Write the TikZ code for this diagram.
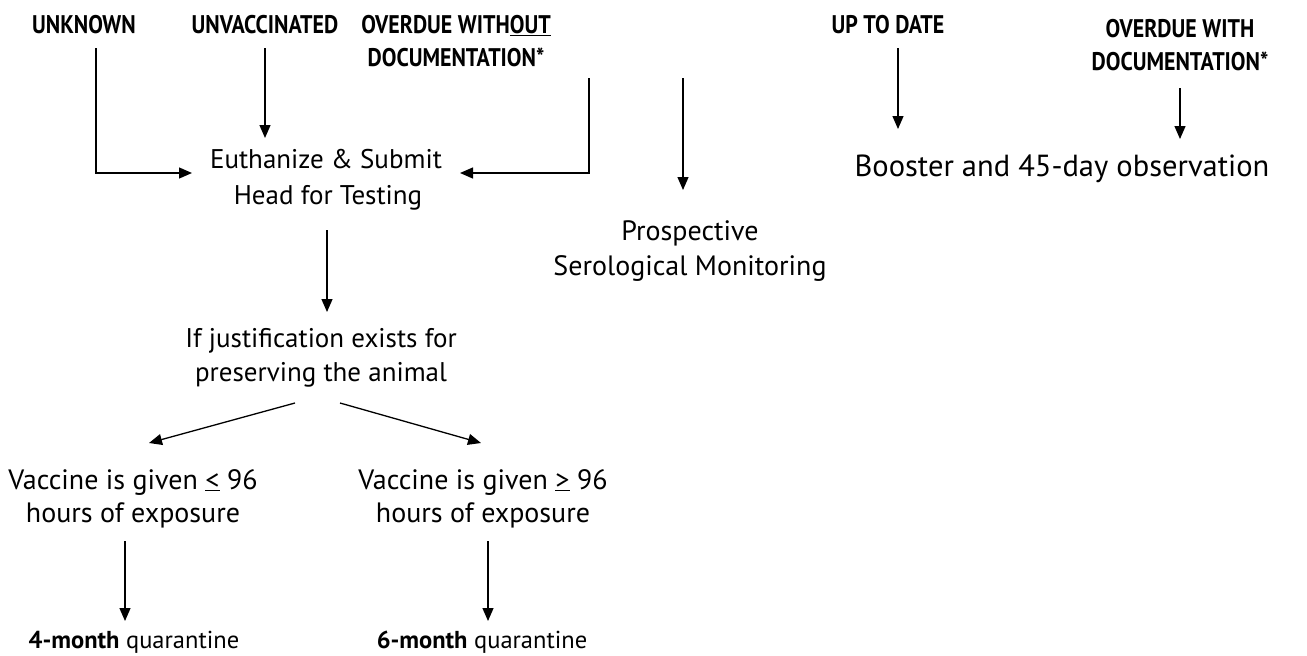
\documentclass[tikz,border=0pt]{standalone}
\usepackage{fontspec}
\setmainfont{PT Sans}
\newfontfamily\hdrfont[FakeStretch=0.86]{PT Sans}
\usetikzlibrary{arrows.meta}
\begin{document}
\begin{tikzpicture}[x=1pt,y=-1pt,
  hdr/.style={font=\hdrfont\fontsize{25.5}{33}\selectfont\bfseries, anchor=base, inner sep=0pt},
  txt/.style={font=\fontsize{27}{33}\selectfont, anchor=base, inner sep=0pt},
  arr/.style={line width=1.3pt, -{Triangle[length=13pt,width=11pt]}}]
\useasboundingbox (0,0) rectangle (1307,656);
% headers
\node[hdr] (unk) at (84,33) {UNKNOWN};
\node[hdr] (unv) at (265,33) {UNVACCINATED};
\node[hdr] (odwoA) at (456,33) {OVERDUE WITH\underline{OUT}};
\node[hdr] (odwoB) at (456,66) {DOCUMENTATION*};
\node[hdr] (utd) at (888,33) {UP TO DATE};
\node[hdr] (odwA) at (1180,37) {OVERDUE WITH};
\node[hdr] (odwB) at (1180,70) {DOCUMENTATION*};
% texts
\node[txt] (euthA) at (326,168) {Euthanize \& Submit};
\node[txt] (euthB) at (328,204) {Head for Testing};
\node[txt, font=\fontsize{28}{33}\selectfont] (prosA) at (690,240) {Prospective};
\node[txt, font=\fontsize{28}{33}\selectfont] (prosB) at (690,275) {Serological Monitoring};
\node[txt, font=\fontsize{30.5}{33}\selectfont] (boost) at (1062,176) {Booster and 45-day observation};
\node[txt] (justA) at (321,347) {If justification exists for};
\node[txt] (justB) at (321,381) {preserving the animal};
\node[txt, font=\fontsize{28}{33}\selectfont] (vleA) at (133,489) {Vaccine is given \underline{<} 96};
\node[txt, font=\fontsize{28}{33}\selectfont] (vleB) at (133,522) {hours of exposure};
\node[txt, font=\fontsize{28}{33}\selectfont] (vgeA) at (483,489) {Vaccine is given \underline{>} 96};
\node[txt, font=\fontsize{28}{33}\selectfont] (vgeB) at (483,522) {hours of exposure};
\node[txt, font=\fontsize{24.5}{33}\selectfont] (q4) at (134,648) {\textbf{4-month} quarantine};
\node[txt, font=\fontsize{24.5}{33}\selectfont] (q6) at (482,648) {\textbf{6-month} quarantine};
% coordinates
\coordinate (a1) at (96,48);
\coordinate (a2) at (96,173);
\coordinate (a3) at (192,173);
\coordinate (b1) at (265,48);
\coordinate (b2) at (265,138);
\coordinate (c1) at (589,78);
\coordinate (c2) at (589,173);
\coordinate (c3) at (460,173);
\coordinate (d1) at (683,78);
\coordinate (d2) at (683,190);
\coordinate (e1) at (898,48);
\coordinate (e2) at (898,129);
\coordinate (f1) at (1180,88);
\coordinate (f2) at (1180,139);
\coordinate (g1) at (327,230);
\coordinate (g2) at (327,312);
\coordinate (h1) at (295,403);
\coordinate (h2) at (149,443);
\coordinate (i1) at (340,403);
\coordinate (i2) at (481,443);
\coordinate (j1) at (125,541);
\coordinate (j2) at (125,621);
\coordinate (k1) at (488,541);
\coordinate (k2) at (488,621);
% connectors
\draw[arr] (a1) -- (a2) -- (a3);
\draw[arr] (b1) -- (b2);
\draw[arr] (c1) -- (c2) -- (c3);
\draw[arr] (d1) -- (d2);
\draw[arr] (e1) -- (e2);
\draw[arr] (f1) -- (f2);
\draw[arr] (g1) -- (g2);
\draw[arr] (h1) -- (h2);
\draw[arr] (i1) -- (i2);
\draw[arr] (j1) -- (j2);
\draw[arr] (k1) -- (k2);
\end{tikzpicture}
\end{document}
